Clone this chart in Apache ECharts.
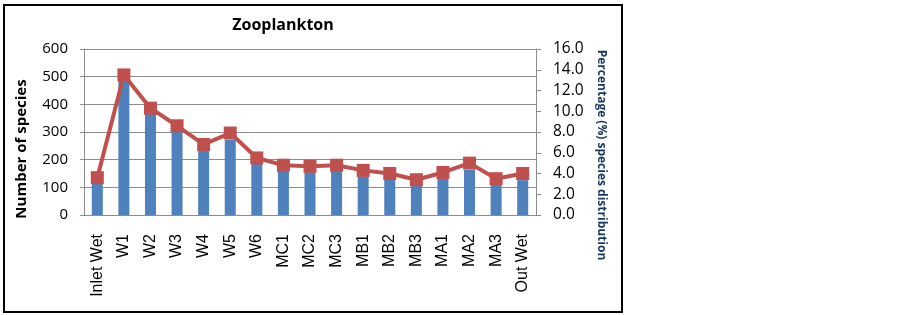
<!DOCTYPE html>
<html>
<head>
<meta charset="utf-8">
<script src="https://cdn.jsdelivr.net/npm/echarts@6/dist/echarts.min.js"></script>
<style>
  html, body { margin: 0; padding: 0; background: #fff; }
  #chart { width: 902px; height: 315px; }
</style>
</head>
<body>
<div id="chart"></div>
<script>
  var categories = ['Inlet Wet', 'W1', 'W2', 'W3', 'W4', 'W5', 'W6', 'MC1', 'MC2', 'MC3', 'MB1', 'MB2', 'MB3', 'MA1', 'MA2', 'MA3', 'Out Wet'];
  var speciesCount = [118, 490, 370, 300, 235, 272, 185, 160, 155, 160, 140, 128, 108, 132, 163, 110, 126];
  var percentDist = [3.6, 13.5, 10.3, 8.6, 6.8, 7.9, 5.5, 4.8, 4.7, 4.8, 4.3, 4.0, 3.4, 4.1, 5.0, 3.5, 4.0];
  var leftTicks = [0, 100, 200, 300, 400, 500, 600];
  var rightTicks = [0, 2, 4, 6, 8, 10, 12, 14, 16];

  var myChart = echarts.init(document.getElementById('chart'));
  var gridColor = '#8c8c8c';
  var option = {
    animation: false,
    title: {
      text: 'Zooplankton',
      left: 278,
      top: 12,
      textAlign: 'center',
      textStyle: { fontFamily: 'Open Sans', fontWeight: 'bold', fontSize: 16, color: '#000' }
    },
    grid: { left: 84, right: 366, top: 49, bottom: 100 },
    graphic: [
      {
        type: 'rect',
        shape: { x: 4, y: 5, width: 618, height: 307 },
        style: { fill: 'none', stroke: '#000', lineWidth: 2 },
        z: 100
      },
      {
        type: 'text',
        x: 22, y: 149,
        rotation: Math.PI / 2,
        style: {
          text: 'Number of species',
          font: 'bold 15px "Open Sans"',
          fill: '#000',
          textAlign: 'center',
          textVerticalAlign: 'middle'
        }
      },
      {
        type: 'text',
        x: 601, y: 155,
        rotation: -Math.PI / 2,
        style: {
          text: 'Percentage (%) species distribution',
          font: 'bold 12px "Open Sans"',
          fill: '#17375E',
          textAlign: 'center',
          textVerticalAlign: 'middle'
        }
      }
    ],
    xAxis: {
      type: 'category',
      data: categories,
      axisLine: { lineStyle: { color: gridColor } },
      axisTick: { show: false },
      axisLabel: {
        interval: 0,
        rotate: 90,
        margin: 19,
        color: '#000',
        fontFamily: 'Liberation Sans',
        fontSize: 16
      }
    },
    yAxis: [
      {
        type: 'value',
        min: leftTicks[0],
        max: leftTicks[leftTicks.length - 1],
        interval: 100,
        axisLine: { show: true, lineStyle: { color: gridColor } },
        axisTick: { show: true, length: 4, lineStyle: { color: gridColor } },
        axisLabel: { margin: 16, color: '#000', fontFamily: 'Open Sans', fontSize: 15 },
        splitLine: { lineStyle: { color: gridColor } }
      },
      {
        type: 'value',
        position: 'right',
        min: rightTicks[0],
        max: rightTicks[rightTicks.length - 1],
        interval: 2,
        axisLine: { show: true, lineStyle: { color: gridColor } },
        axisTick: { show: true, length: 5, lineStyle: { color: gridColor } },
        axisLabel: {
          margin: 17,
          color: '#000',
          fontFamily: 'Open Sans',
          fontSize: 15.5,
          formatter: function (v) { return v.toFixed(1); }
        },
        splitLine: { show: false }
      }
    ],
    series: [
      {
        type: 'bar',
        data: speciesCount,
        yAxisIndex: 0,
        barWidth: 11,
        itemStyle: { color: '#4F81BD' }
      },
      {
        type: 'line',
        data: percentDist,
        yAxisIndex: 1,
        symbol: 'rect',
        symbolSize: 13,
        lineStyle: { color: '#C0504D', width: 4 },
        itemStyle: { color: '#C0504D' }
      }
    ]
  };
  myChart.setOption(option);
</script>
</body>
</html>
